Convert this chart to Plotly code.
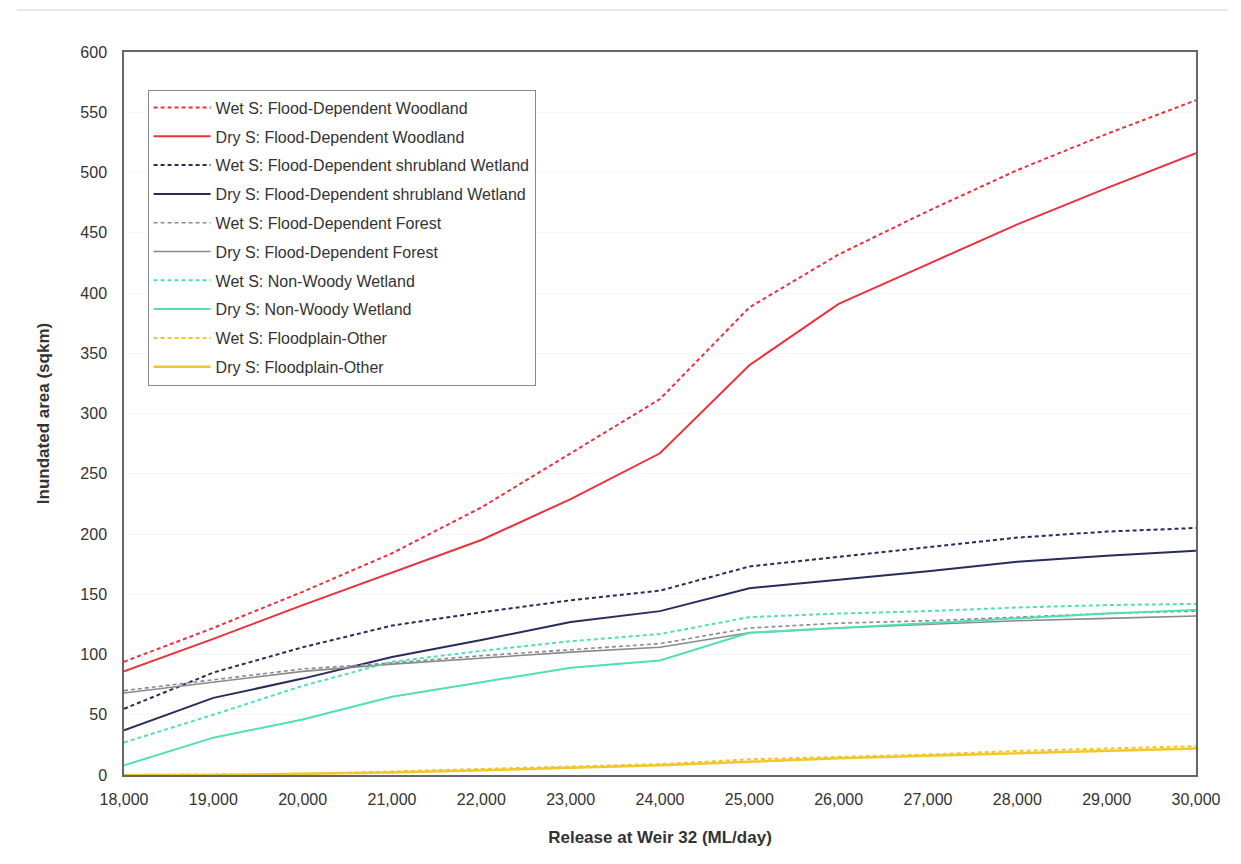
import plotly.graph_objects as go

release = [18000, 19000, 20000, 21000, 22000, 23000, 24000, 25000, 26000, 27000, 28000, 29000, 30000]

wet_woodland = [94, 122, 152, 184, 222, 267, 312, 388, 432, 468, 502, 532, 560]
dry_woodland = [86, 113, 141, 168, 195, 229, 267, 340, 391, 424, 457, 487, 516]
wet_shrub = [55, 85, 106, 124, 135, 145, 153, 173, 181, 189, 197, 202, 205]
dry_shrub = [37, 64, 80, 98, 112, 127, 136, 155, 162, 169, 177, 182, 186]
wet_forest = [70, 79, 88, 93, 99, 104, 109, 122, 126, 128, 131, 134, 136]
dry_forest = [68, 77, 86, 92, 97, 102, 106, 118, 122, 125, 128, 130, 132]
wet_nonwoody = [27, 50, 74, 94, 103, 111, 117, 131, 134, 136, 139, 141, 142]
dry_nonwoody = [8, 31, 46, 65, 77, 89, 95, 118, 122, 126, 130, 134, 137]
wet_floodplain = [0, 0.5, 1, 3, 5, 7, 9, 13, 15, 17, 20, 22, 24]
dry_floodplain = [0, 0, 1, 2, 4, 6, 8, 11, 14, 16, 18, 20, 22]

series = [
    ("Wet S: Flood-Dependent Woodland", wet_woodland, "#ee2f3c", "4px,3px", 2),
    ("Dry S: Flood-Dependent Woodland", dry_woodland, "#ee2f3c", "solid", 2),
    ("Wet S: Flood-Dependent shrubland Wetland", wet_shrub, "#262d5c", "4px,3px", 2),
    ("Dry S: Flood-Dependent shrubland Wetland", dry_shrub, "#262d5c", "solid", 2),
    ("Wet S: Flood-Dependent Forest", wet_forest, "#8a8a8a", "4px,3px", 1.6),
    ("Dry S: Flood-Dependent Forest", dry_forest, "#8a8a8a", "solid", 1.6),
    ("Wet S: Non-Woody Wetland", wet_nonwoody, "#4fe0b4", "4px,3px", 2),
    ("Dry S: Non-Woody Wetland", dry_nonwoody, "#4fe0b4", "solid", 2),
    ("Wet S: Floodplain-Other", wet_floodplain, "#f2c72a", "4px,3px", 2),
    ("Dry S: Floodplain-Other", dry_floodplain, "#f2c72a", "solid", 2.5),
]

fig = go.Figure()
for i, (name, vals, color, dash, w) in enumerate(series):
    fig.add_trace(go.Scatter(
        x=release, y=vals, name=name, mode="lines",
        line=dict(color=color, dash=dash, width=w),
        legendgroup=f"g{i}",
    ))

fig.add_shape(type="line", xref="paper", yref="paper",
              x0=-0.1, x1=1.03, y0=1.058, y1=1.058,
              line=dict(color="#e8e8e8", width=2))

fig.update_layout(
    width=1225, height=848,
    paper_bgcolor="white", plot_bgcolor="white",
    margin=dict(l=116, r=31, t=44, b=77),
    font=dict(family="Liberation Sans, Arial, sans-serif", color="#333333"),
    showlegend=True,
    legend=dict(
        x=0.022, y=0.948, xanchor="left", yanchor="top",
        bgcolor="white", bordercolor="#888888", borderwidth=1,
        font=dict(size=16, color="#333333"),
        traceorder="grouped", tracegroupgap=5,
        itemwidth=57,
    ),
    xaxis=dict(
        range=[18000, 30000], tickvals=release,
        ticktext=[f"{v:,}" for v in release],
        showgrid=False, zeroline=False,
        showline=True, linecolor="#666666", linewidth=1.5, mirror=True,
        ticks="outside", ticklen=9, tickcolor="rgba(0,0,0,0)",
        tickfont=dict(size=16, color="#333333"),
        title=dict(text="<b>Release at Weir 32 (ML/day)</b>", font=dict(size=17, color="#333333"), standoff=24),
    ),
    yaxis=dict(
        range=[0, 600], dtick=50,
        showgrid=True, gridcolor="#f6f6f6", zeroline=False,
        showline=True, linecolor="#666666", linewidth=1.5, mirror=True,
        ticks="outside", ticklen=12, tickcolor="rgba(0,0,0,0)",
        tickfont=dict(size=16, color="#333333"),
        title=dict(text="<b>Inundated area (sqkm)</b>", font=dict(size=17, color="#333333"), standoff=26),
    ),
)

fig.write_html("out.html")
